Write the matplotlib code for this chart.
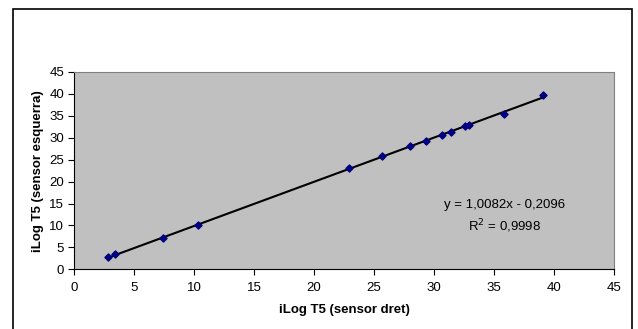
import numpy as np
import matplotlib.pyplot as plt
from matplotlib.patches import Rectangle

plt.rcParams['font.family'] = ['Liberation Sans', 'DejaVu Sans']

# data
sensor_dret = [2.8, 3.4, 7.4, 10.3, 22.9, 25.7, 28.0, 29.3, 30.7, 31.4, 32.6, 32.9, 35.8, 39.1]
sensor_esquerra = [2.7, 3.4, 7.1, 10.1, 23.0, 25.8, 28.2, 29.3, 30.7, 31.4, 32.6, 33.0, 35.5, 39.7]

slope = 1.0082
intercept = -0.2096
r2 = 0.9998

fig = plt.figure(figsize=(6.38, 3.29), dpi=100)
ax = fig.add_axes([74 / 638, 1 - 269.3 / 329, 540 / 638, 197.3 / 329])

# outer chart border
fig.patches.append(Rectangle((13 / 638, -0.1), 619 / 638, 1.1 - 9 / 329,
                             transform=fig.transFigure, fill=False,
                             edgecolor='black', linewidth=1.2))

ax.set_facecolor('#C0C0C0')
ax.scatter(sensor_dret, sensor_esquerra, marker='D', s=13, color='#000080', zorder=3)

xs = np.array([min(sensor_dret), max(sensor_dret)])
ax.plot(xs, slope * xs + intercept, color='black', linewidth=1.5, zorder=2)

ax.set_xlim(0, 45)
ax.set_ylim(0, 45)
ax.set_xticks(range(0, 46, 5))
ax.set_yticks(range(0, 46, 5))
ax.tick_params(labelsize=9.5, length=4, width=0.8, direction='out')
ax.tick_params(axis='x', pad=5)
ax.tick_params(axis='y', pad=3)

for side in ['top', 'right']:
    ax.spines[side].set_color('#808080')
for side in ['left', 'bottom']:
    ax.spines[side].set_color('black')

ax.set_xlabel('iLog T5 (sensor dret)', fontsize=9.5, fontweight='bold', labelpad=7)
ax.set_ylabel('iLog T5 (sensor esquerra)', fontsize=9.5, fontweight='bold', labelpad=4)

ax.text(35.9, 14.7, 'y = 1,0082x - 0,2096', fontsize=9.5, ha='center', va='center')
ax.text(35.9, 9.9, 'R$^2$ = 0,9998', fontsize=9.5, ha='center', va='center')

fig.savefig('out.png', dpi=100)
